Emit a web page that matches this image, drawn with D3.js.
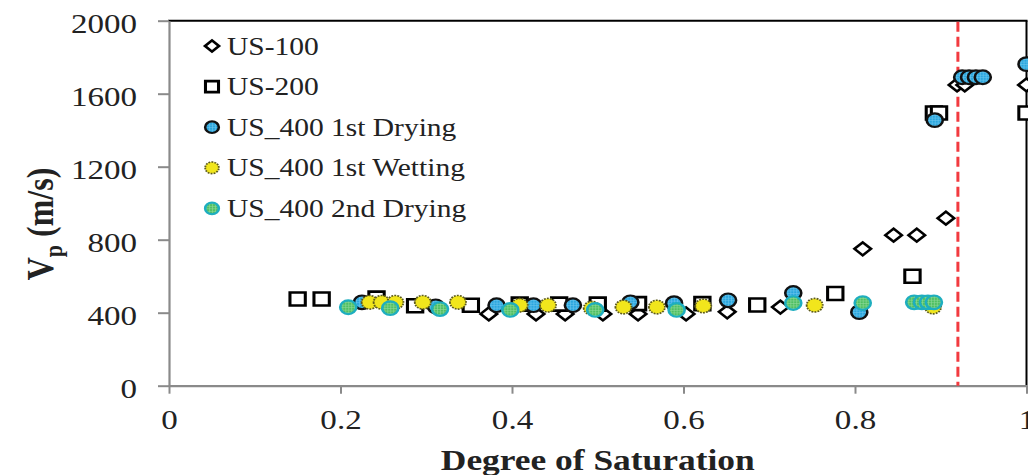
<!DOCTYPE html>
<html>
<head>
<meta charset="utf-8">
<script src="https://cdn.jsdelivr.net/npm/d3@7"></script>
<style>
  html, body { margin: 0; padding: 0; background: #fff; }
  svg { display: block; }
  text { font-family: "Liberation Serif", "Times New Roman", serif; fill: #222; }
</style>
</head>
<body>
<svg id="chart" width="1028" height="475"></svg>
<script>
// Degree of saturation vs. P-wave velocity for each specimen
const us100Sat = [0.373, 0.428, 0.462, 0.506, 0.547, 0.603, 0.651, 0.713, 0.809, 0.845, 0.872, 0.906, 0.919, 0.928, 1.0];
const us100Vp  = [393, 393, 393, 393, 393, 393, 405, 431, 750, 825, 825, 918, 1648, 1648, 1648];

const us200Sat = [0.150, 0.178, 0.242, 0.287, 0.352, 0.409, 0.455, 0.500, 0.547, 0.622, 0.686, 0.777, 0.867, 0.892, 0.898, 1.0];
const us200Vp  = [475, 475, 480, 438, 441, 447, 447, 447, 450, 450, 442, 505, 600, 1494, 1494, 1494];

const dry1Sat = [0.225, 0.311, 0.382, 0.425, 0.471, 0.538, 0.589, 0.652, 0.728, 0.805, 0.893, 0.925, 0.933, 0.941, 0.949, 1.0];
const dry1Vp  = [457, 435, 441, 441, 441, 457, 452, 468, 508, 403, 1455, 1690, 1690, 1690, 1690, 1762];

const wet1Sat = [0.234, 0.248, 0.264, 0.296, 0.337, 0.409, 0.442, 0.493, 0.530, 0.569, 0.623, 0.753, 0.891];
const wet1Vp  = [457, 457, 457, 457, 457, 441, 441, 425, 431, 431, 437, 441, 431];

const dry2Sat = [0.209, 0.258, 0.316, 0.398, 0.497, 0.592, 0.728, 0.809, 0.869, 0.878, 0.885, 0.892];
const dry2Vp  = [430, 425, 420, 415, 415, 415, 453, 453, 457, 457, 457, 457];

const seriesNames = ["US-100", "US-200", "US_400 1st Drying", "US_400 1st Wetting", "US_400 2nd Drying"];
const xTicks = [0, 0.2, 0.4, 0.6, 0.8, 1];
const yTicks = [0, 400, 800, 1200, 1600, 2000];
const thresholdSat = 0.92;

const svg = d3.select("#chart");
const plotLeft = 169, plotRight = 1026.5, plotTop = 20.7, plotBottom = 385.7;
const STRETCH = 1.18;

const x = d3.scaleLinear().domain([0, 1]).range([plotLeft, plotRight]);
const y = d3.scaleLinear().domain([0, 2000]).range([plotBottom, plotTop]);

// Fill textures for the circle markers
const defs = svg.append("defs");
function gridPattern(id, base, line) {
  const p = defs.append("pattern").attr("id", id).attr("patternUnits", "userSpaceOnUse")
    .attr("width", 2.5).attr("height", 2.5);
  p.append("rect").attr("width", 2.5).attr("height", 2.5).attr("fill", base);
  p.append("path").attr("d", "M0,0.3H2.5M0.3,0V2.5").attr("stroke", line).attr("stroke-width", 0.6);
}
gridPattern("texBlue", "#2aa6de", "#6cc6ee");
gridPattern("texGreen", "#4fbf62", "#8fd99a");

// Frame: black top and right edges, grey axes
svg.append("line").attr("x1", plotLeft - 1).attr("x2", plotRight + 1).attr("y1", plotTop).attr("y2", plotTop)
  .attr("stroke", "#000").attr("stroke-width", 2);
svg.append("line").attr("x1", plotRight).attr("x2", plotRight).attr("y1", plotTop).attr("y2", plotBottom)
  .attr("stroke", "#000").attr("stroke-width", 2);

const yAxis = svg.append("g").attr("transform", `translate(${plotLeft},0)`)
  .call(d3.axisLeft(y).tickValues(yTicks).tickSize(11).tickSizeOuter(0).tickPadding(0)
    .tickFormat(d3.format("d")));
const xAxis = svg.append("g").attr("transform", `translate(0,${plotBottom})`)
  .call(d3.axisBottom(x).tickValues(xTicks).tickSize(8).tickSizeOuter(0).tickFormat(d3.format("~g")));

[yAxis, xAxis].forEach(g => {
  g.select(".domain").attr("stroke", "#8a8a8a").attr("stroke-width", 2.2);
  g.selectAll(".tick line").attr("stroke", "#8a8a8a").attr("stroke-width", 2);
  g.selectAll(".tick text").attr("font-family", "Liberation Serif, serif").attr("font-size", 28)
    .attr("fill", "#222");
});
yAxis.selectAll(".tick text").attr("x", -32 / STRETCH).attr("dy", "0.42em")
  .attr("transform", `scale(${STRETCH},1)`);
xAxis.selectAll(".tick text").attr("y", 43).attr("dy", 0)
  .attr("transform", `scale(${STRETCH},1)`);

// Saturation threshold
svg.append("line").attr("x1", x(thresholdSat)).attr("x2", x(thresholdSat))
  .attr("y1", plotTop + 1).attr("y2", plotBottom)
  .attr("stroke", "#f23a3f").attr("stroke-width", 3).attr("stroke-dasharray", "10,5");

// Marker shapes
const shapes = {
  diamond: s => `M0,${-6.5 * s}L${7 * s},0L0,${6.5 * s}L${-7 * s},0Z`,
  square: s => `M${-6.5 * s},${-6.5 * s}H${6.5 * s}V${6.5 * s}H${-6.5 * s}Z`,
  circle: s => `M${-6.8 * s},0A${6.8 * s},${6.8 * s} 0 1,0 ${6.8 * s},0A${6.8 * s},${6.8 * s} 0 1,0 ${-6.8 * s},0Z`
};
const styles = [
  { shape: "diamond", fill: "#fff", stroke: "#000", sw: 2.4, dash: null },
  { shape: "square", fill: "#fff", stroke: "#000", sw: 2.6, dash: null },
  { shape: "circle", fill: "url(#texBlue)", stroke: "#111", sw: 2.2, dash: null },
  { shape: "circle", fill: "#f1e61c", stroke: "#5d5b1c", sw: 1.6, dash: "1.6,1" },
  { shape: "circle", fill: "url(#texGreen)", stroke: "#1eaebf", sw: 2.2, dash: null }
];
const series = [
  [us100Sat, us100Vp], [us200Sat, us200Vp], [dry1Sat, dry1Vp], [wet1Sat, wet1Vp], [dry2Sat, dry2Vp]
];

series.forEach(([sx, sy], i) => {
  const st = styles[i];
  const pts = sx.map((v, k) => ({ sat: v, vp: sy[k] }));
  svg.append("g").selectAll("path").data(pts).join("path")
    .attr("d", shapes[st.shape](1))
    .attr("transform", d => `translate(${x(d.sat)},${y(d.vp)}) scale(${STRETCH},1)`)
    .attr("fill", st.fill).attr("stroke", st.stroke).attr("stroke-width", st.sw)
    .attr("stroke-dasharray", st.dash);
});

// Legend
const legend = svg.append("g");
seriesNames.forEach((name, i) => {
  const st = styles[i];
  const cy = 46 + i * 40.6;
  legend.append("path").attr("d", shapes[st.shape](0.85))
    .attr("transform", `translate(212,${cy}) scale(${STRETCH},1)`)
    .attr("fill", st.fill).attr("stroke", st.stroke).attr("stroke-width", st.sw)
    .attr("stroke-dasharray", st.dash);
  legend.append("text").attr("transform", `translate(227,${cy + 8.5}) scale(${STRETCH},1)`)
    .attr("font-size", 25).text(name);
});

// Axis titles
svg.append("text").attr("transform", `translate(${(plotLeft + plotRight) / 2},470) scale(${STRETCH},1)`)
  .attr("text-anchor", "middle").attr("font-size", 30).attr("font-weight", "bold")
  .text("Degree of Saturation");

const yTitle = svg.append("text")
  .attr("transform", `translate(53,224) scale(${STRETCH},1) rotate(-90)`)
  .attr("text-anchor", "middle").attr("font-size", 32).attr("font-weight", "bold");
yTitle.append("tspan").text("V");
yTitle.append("tspan").attr("font-size", 22).attr("dy", 8).text("p");
yTitle.append("tspan").attr("dy", -8).text(" (m/s)");
</script>
</body>
</html>
